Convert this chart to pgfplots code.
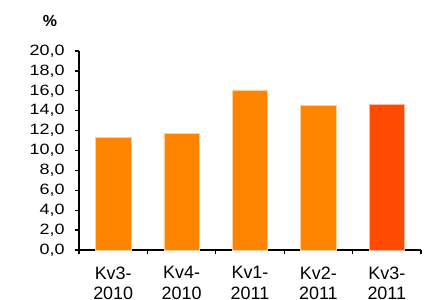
\documentclass[border=0pt]{standalone}
\usepackage{fontspec}
\setmainfont{Liberation Sans}
\newfontfamily\ytickfont{Liberation Sans}[FakeStretch=1.2]
\usepackage{pgfplots}
\pgfplotsset{compat=1.18}
\definecolor{barorange}{HTML}{FF8500}
\definecolor{barred}{HTML}{FF4B00}
\begin{document}
\begin{tikzpicture}
\begin{axis}[
  at={(0,0)}, anchor=south west,
  scale only axis, width=342bp, height=199bp,
  xmin=-0.5, xmax=4.5, ymin=0, ymax=20,
  axis x line*=bottom, axis y line*=left,
  axis line style={-, line width=1.3bp, black},
  xtick={0,1,2,3,4},
  xticklabels={{Kv3-\\2010},{Kv4-\\2010},{Kv1-\\2011},{Kv2-\\2011},{Kv3-\\2011}},
  minor xtick={-0.5,0.5,1.5,2.5,3.5,4.5},
  major x tick style={draw=none},
  minor x tick style={line width=1.3bp, black},
  ytick={0,2,...,20},
  y tick style={line width=1.3bp, black},
  tick align=outside, tick pos=left,
  major tick length=4bp, minor tick length=4bp,
  /pgf/number format/.cd, fixed, fixed zerofill, precision=1, use comma, assume math mode=true,
  /pgfplots/.cd,
  yticklabel style={font=\ytickfont\fontsize{15}{18}\selectfont, xshift=-7bp},
  xticklabel style={font=\fontsize{18}{20.5}\selectfont, align=center, yshift=-9bp},
  ybar, bar width=35.5bp, bar shift=0pt,
]
\addplot[fill=barorange, draw=barorange!40!white, line width=0.5bp] coordinates {(0,11.3) (1,11.7) (2,16.1) (3,14.5)};
\addplot[fill=barred, draw=barred!40!white, line width=0.5bp] coordinates {(4,14.6)};
\end{axis}
\node[font=\bfseries\fontsize{16}{18}\selectfont] at (-29bp,229bp) {\%};
\pgfresetboundingbox
\useasboundingbox (-79bp,-50bp) rectangle (348bp,250bp);
\end{tikzpicture}
\end{document}
